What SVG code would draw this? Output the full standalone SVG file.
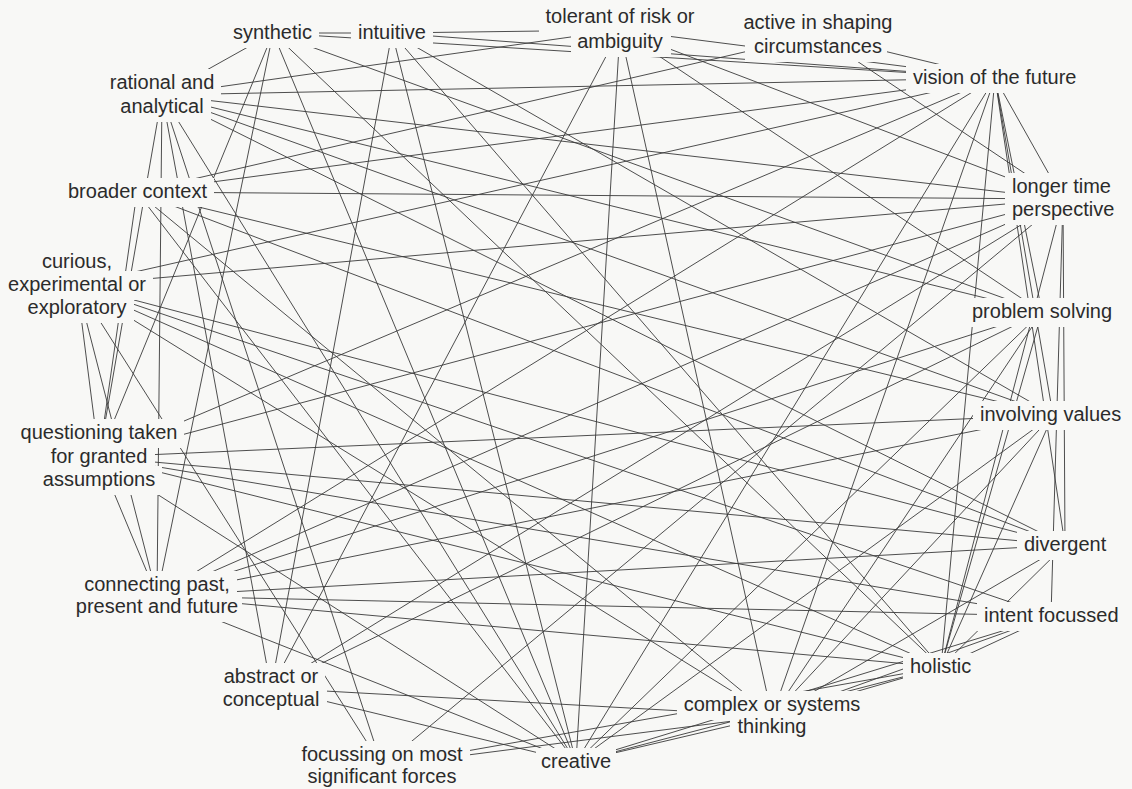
<svg xmlns="http://www.w3.org/2000/svg" width="1132" height="789" viewBox="0 0 1132 789">
<style>
.c line{stroke:#3a3a3a;stroke-width:0.9;fill:none}
text{font-family:"Liberation Sans",Arial,sans-serif;font-size:20px;fill:#2b2b2b}
.m{text-anchor:middle}
</style>
<defs>
<mask id="lbl" maskUnits="userSpaceOnUse" x="0" y="0" width="1132" height="789">
<rect width="1132" height="789" fill="#fff"/>
<g fill="#000">
<rect x="226" y="19" width="93" height="29"/>
<rect x="351" y="19" width="82" height="29"/>
<rect x="539" y="3" width="163" height="29"/><rect x="571" y="28" width="100" height="29"/>
<rect x="738" y="9" width="162" height="29"/><rect x="745" y="33" width="142" height="29"/>
<rect x="906" y="64" width="177" height="29"/>
<rect x="1005" y="173" width="113" height="29"/><rect x="1005" y="196" width="116" height="29"/>
<rect x="965" y="298" width="154" height="29"/>
<rect x="973" y="401" width="160" height="29"/>
<rect x="1017" y="531" width="96" height="29"/>
<rect x="977" y="602" width="149" height="29"/>
<rect x="903" y="653" width="75" height="29"/>
<rect x="677" y="691" width="190" height="29"/><rect x="730" y="713" width="84" height="29"/>
<rect x="536" y="748" width="80" height="29"/>
<rect x="294" y="741" width="176" height="29"/><rect x="301" y="763" width="162" height="29"/>
<rect x="217" y="663" width="108" height="29"/><rect x="215" y="686" width="112" height="29"/>
<rect x="77" y="571" width="160" height="29"/><rect x="72" y="593" width="170" height="29"/>
<rect x="14" y="419" width="170" height="29"/><rect x="43" y="443" width="112" height="29"/><rect x="36" y="466" width="126" height="29"/>
<rect x="35" y="248" width="84" height="29"/><rect x="1" y="271" width="152" height="29"/><rect x="20" y="294" width="114" height="29"/>
<rect x="61" y="178" width="153" height="29"/>
<rect x="103" y="69" width="118" height="29"/><rect x="113" y="93" width="98" height="29"/>
</g>
</mask>
</defs>
<rect width="1132" height="789" fill="#f8f8f6"/>
<g id="connectors" class="c" mask="url(#lbl)">
<line x1="273" y1="33" x2="392" y2="33"/><line x1="273" y1="33" x2="162" y2="95"/><line x1="273" y1="33" x2="995" y2="78"/><line x1="273" y1="33" x2="99" y2="457"/><line x1="273" y1="33" x2="157" y2="596"/><line x1="273" y1="33" x2="576" y2="762"/><line x1="273" y1="33" x2="941" y2="667"/><line x1="273" y1="33" x2="1042" y2="312"/>
<line x1="392" y1="33" x2="620" y2="30"/><line x1="392" y1="33" x2="995" y2="78"/><line x1="392" y1="33" x2="271" y2="688"/><line x1="392" y1="33" x2="576" y2="762"/><line x1="392" y1="33" x2="941" y2="667"/><line x1="392" y1="33" x2="1053" y2="415"/>
<line x1="620" y1="30" x2="162" y2="95"/><line x1="620" y1="30" x2="995" y2="78"/><line x1="620" y1="30" x2="271" y2="688"/><line x1="620" y1="30" x2="576" y2="762"/><line x1="620" y1="30" x2="772" y2="716"/><line x1="620" y1="30" x2="1042" y2="312"/><line x1="620" y1="30" x2="1063" y2="199"/>
<line x1="818" y1="35" x2="137" y2="192"/><line x1="818" y1="35" x2="1063" y2="199"/><line x1="818" y1="35" x2="995" y2="78"/>
<line x1="995" y1="78" x2="162" y2="95"/><line x1="995" y1="78" x2="137" y2="192"/><line x1="995" y1="78" x2="77" y2="285"/><line x1="995" y1="78" x2="99" y2="457"/><line x1="995" y1="78" x2="1063" y2="199"/><line x1="995" y1="78" x2="1042" y2="312"/><line x1="995" y1="78" x2="1053" y2="415"/><line x1="995" y1="78" x2="1065" y2="545"/><line x1="995" y1="78" x2="941" y2="667"/><line x1="995" y1="78" x2="772" y2="716"/><line x1="995" y1="78" x2="157" y2="596"/><line x1="995" y1="78" x2="576" y2="762"/>
<line x1="1063" y1="199" x2="162" y2="95"/><line x1="1063" y1="199" x2="137" y2="192"/><line x1="1063" y1="199" x2="77" y2="285"/><line x1="1063" y1="199" x2="99" y2="457"/><line x1="1063" y1="199" x2="941" y2="667"/><line x1="1063" y1="199" x2="1051" y2="616"/><line x1="1063" y1="199" x2="1065" y2="545"/><line x1="1063" y1="199" x2="271" y2="688"/><line x1="1063" y1="199" x2="382" y2="766"/><line x1="1063" y1="199" x2="157" y2="596"/>
<line x1="1042" y1="312" x2="271" y2="688"/><line x1="1042" y1="312" x2="157" y2="596"/><line x1="1042" y1="312" x2="576" y2="762"/><line x1="1042" y1="312" x2="772" y2="716"/><line x1="1042" y1="312" x2="162" y2="95"/><line x1="1042" y1="312" x2="941" y2="667"/>
<line x1="1053" y1="415" x2="99" y2="457"/><line x1="1053" y1="415" x2="162" y2="95"/><line x1="1053" y1="415" x2="941" y2="667"/><line x1="1053" y1="415" x2="157" y2="596"/><line x1="1053" y1="415" x2="576" y2="762"/><line x1="1053" y1="415" x2="137" y2="192"/><line x1="1053" y1="415" x2="772" y2="716"/>
<line x1="1065" y1="545" x2="137" y2="192"/><line x1="1065" y1="545" x2="77" y2="285"/><line x1="1065" y1="545" x2="99" y2="457"/><line x1="1065" y1="545" x2="157" y2="596"/><line x1="1065" y1="545" x2="941" y2="667"/><line x1="1065" y1="545" x2="162" y2="95"/><line x1="1065" y1="545" x2="772" y2="716"/>
<line x1="1051" y1="616" x2="99" y2="457"/><line x1="1051" y1="616" x2="941" y2="667"/><line x1="1051" y1="616" x2="576" y2="762"/><line x1="1051" y1="616" x2="772" y2="716"/><line x1="1051" y1="616" x2="77" y2="285"/><line x1="1051" y1="616" x2="157" y2="596"/>
<line x1="941" y1="667" x2="77" y2="285"/><line x1="941" y1="667" x2="99" y2="457"/><line x1="941" y1="667" x2="382" y2="766"/><line x1="941" y1="667" x2="576" y2="762"/><line x1="941" y1="667" x2="772" y2="716"/><line x1="941" y1="667" x2="157" y2="596"/>
<line x1="772" y1="716" x2="137" y2="192"/><line x1="772" y1="716" x2="77" y2="285"/><line x1="772" y1="716" x2="382" y2="766"/><line x1="772" y1="716" x2="271" y2="688"/><line x1="772" y1="716" x2="576" y2="762"/>
<line x1="576" y1="762" x2="137" y2="192"/><line x1="576" y1="762" x2="99" y2="457"/><line x1="576" y1="762" x2="271" y2="688"/><line x1="576" y1="762" x2="157" y2="596"/><line x1="576" y1="762" x2="162" y2="95"/>
<line x1="382" y1="766" x2="77" y2="285"/><line x1="382" y1="766" x2="162" y2="95"/>
<line x1="271" y1="688" x2="162" y2="95"/>
<line x1="157" y1="596" x2="162" y2="95"/>
<line x1="99" y1="457" x2="162" y2="95"/><line x1="99" y1="457" x2="137" y2="192"/><line x1="99" y1="457" x2="77" y2="285"/><line x1="99" y1="457" x2="157" y2="596"/>
<line x1="77" y1="285" x2="157" y2="596"/>
</g>
<g id="synthetic"><text x="233" y="39">synthetic</text></g>
<g id="intuitive"><text x="358" y="39">intuitive</text></g>
<g id="tolerant"><text class="m" x="620" y="23">tolerant of risk or</text><text class="m" x="620" y="48">ambiguity</text></g>
<g id="active"><text class="m" x="818" y="29">active in shaping</text><text class="m" x="818" y="53">circumstances</text></g>
<g id="vision"><text x="913" y="84">vision of the future</text></g>
<g id="longer-time"><text x="1012" y="193">longer time</text><text x="1012" y="216">perspective</text></g>
<g id="problem-solving"><text x="972" y="318">problem solving</text></g>
<g id="involving-values"><text x="980" y="421">involving values</text></g>
<g id="divergent"><text x="1024" y="551">divergent</text></g>
<g id="intent-focussed"><text x="984" y="622">intent focussed</text></g>
<g id="holistic"><text x="910" y="673">holistic</text></g>
<g id="complex"><text class="m" x="772" y="711">complex or systems</text><text class="m" x="772" y="733">thinking</text></g>
<g id="creative"><text class="m" x="576" y="768">creative</text></g>
<g id="focussing"><text class="m" x="382" y="761">focussing on most</text><text class="m" x="382" y="783">significant forces</text></g>
<g id="abstract"><text class="m" x="271" y="683">abstract or</text><text class="m" x="271" y="706">conceptual</text></g>
<g id="connecting"><text class="m" x="157" y="591">connecting past,</text><text class="m" x="157" y="613">present and future</text></g>
<g id="questioning"><text class="m" x="99" y="439">questioning taken</text><text class="m" x="99" y="463">for granted</text><text class="m" x="99" y="486">assumptions</text></g>
<g id="curious"><text class="m" x="77" y="268">curious,</text><text class="m" x="77" y="291">experimental or</text><text class="m" x="77" y="314">exploratory</text></g>
<g id="broader-context"><text x="68" y="198">broader context</text></g>
<g id="rational"><text class="m" x="162" y="89">rational and</text><text class="m" x="162" y="113">analytical</text></g>
</svg>
